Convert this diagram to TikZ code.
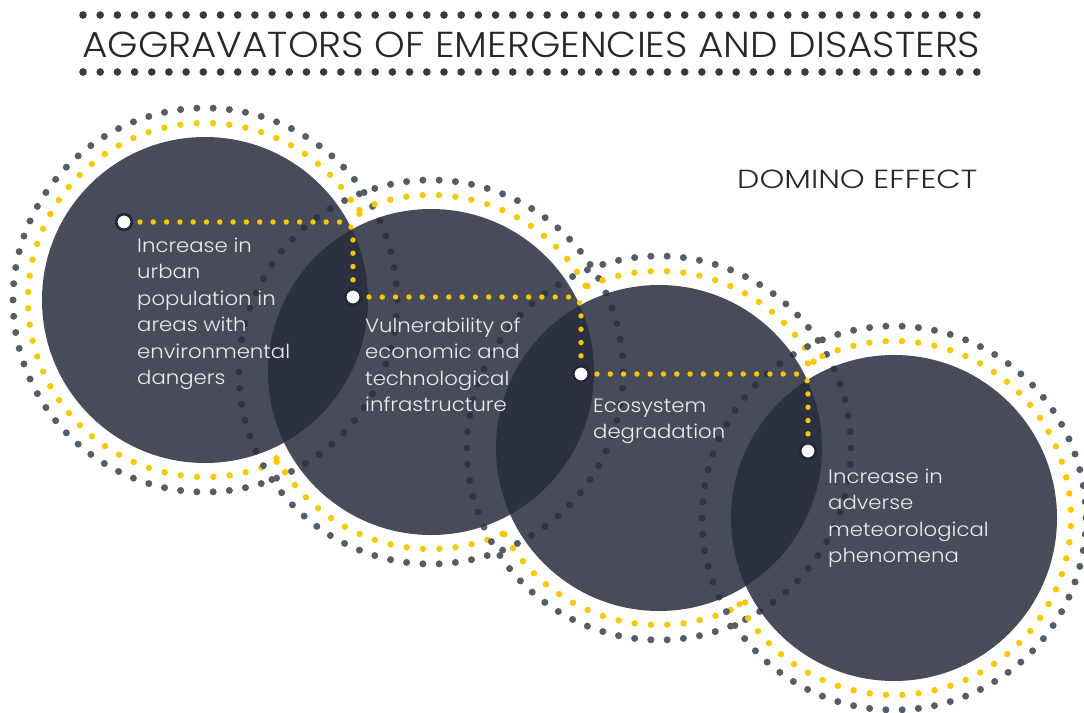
\documentclass[tikz,border=0pt]{standalone}
\usepackage{fontspec}
\setmainfont{Poppins}[UprightFont=* Light, FakeStretch=1.1]
\usepackage{graphicx}
\definecolor{circ}{RGB}{40,45,62}
\definecolor{ringgray}{RGB}{84,94,104}
\definecolor{ringyel}{RGB}{250,200,0}
\definecolor{titlecol}{RGB}{40,40,40}
\definecolor{txt}{RGB}{236,236,240}
\begin{document}
\begin{tikzpicture}[x=1pt,y=-1pt,
  body/.style={text=txt, anchor=base west, inner sep=0pt,
    font=\fontsize{19.3}{26.5}\selectfont},
  wdot/.style={circle, fill=white, draw=circ!85!black, line width=2.5pt,
    minimum size=15.5pt, inner sep=0pt},
  conn/.style={draw=ringyel, line width=5.4pt, line cap=round,
    dash pattern=on 0pt off 13.3pt, rounded corners=11pt,
    shorten <=7pt, shorten >=8pt},
  titledot/.style={fill=titlecol!92},
  ydot/.style={fill=ringyel},
  gdot/.style={fill=ringgray},
  bigcirc/.style={fill=circ, fill opacity=0.85}]
\useasboundingbox (0,0) rectangle (1084,712);
\fill[white] (0,0) rectangle (1084,712);

% title dotted rules
\foreach \i in {0,...,52} {
  \fill[titledot] ({83+\i*17.19},15) circle (3.8);
  \fill[titledot] ({83+\i*17.19},72) circle (3.8);
}
\node[anchor=base west, inner sep=0pt, text=titlecol] (title) at (82,57)
  {\resizebox{898pt}{25.5pt}{AGGRAVATORS OF EMERGENCIES AND DISASTERS}};
\node[anchor=base west, inner sep=0pt, text=titlecol] (domino) at (737,188)
  {\resizebox{240pt}{18.5pt}{DOMINO EFFECT}};

% dotted rings (yellow dots hidden where they fall inside a big circle)
\foreach \cx/\cy in {205/300, 431/372, 659/448, 894/518} {
  \foreach \k in {0,...,73}
    \fill[gdot] ({\cx+192*cos(\k*4.86486)},{\cy+192*sin(\k*4.86486)}) circle (3.5);
  \foreach \k in {0,...,67} {
    \pgfmathsetmacro\px{\cx+177*cos(\k*5.29412+2.6)}
    \pgfmathsetmacro\py{\cy+177*sin(\k*5.29412+2.6)}
    \pgfmathtruncatemacro\ins{(((\px-205)/100)^2+((\py-300)/100)^2<2.72)
      +(((\px-431)/100)^2+((\py-372)/100)^2<2.72)
      +(((\px-659)/100)^2+((\py-448)/100)^2<2.72)
      +(((\px-894)/100)^2+((\py-518)/100)^2<2.72)}
    \ifnum\ins=0
      \fill[ydot] (\px,\py) circle (3.2);
    \fi
  }
}

% big circles
\foreach \cx/\cy in {205/300, 431/372, 659/448, 894/518}
  \fill[bigcirc] (\cx,\cy) circle (163);

% markers
\node[wdot] (d1) at (124,222) {};
\node[wdot] (d2) at (353,297) {};
\node[wdot] (d3) at (581,374) {};
\node[wdot] (d4) at (808,451) {};

\draw[conn] (d1) -| (d2);
\draw[conn] (d2) -| (d3);
\draw[conn] (d3) -| (d4);

% texts
\node[body] (t1) at (137,252) {\vtop{\hbox{Increase in}\hbox{urban}\hbox{population in}\hbox{areas with}\hbox{environmental}\hbox{dangers}}};
\node[body] (t2) at (365,332) {\vtop{\hbox{Vulnerability of}\hbox{economic and}\hbox{technological}\hbox{infrastructure}}};
\node[body] (t3) at (593,412) {\vtop{\hbox{Ecosystem}\hbox{degradation}}};
\node[body] (t4) at (828,483) {\vtop{\hbox{Increase in}\hbox{adverse}\hbox{meteorological}\hbox{phenomena}}};
\end{tikzpicture}
\end{document}
